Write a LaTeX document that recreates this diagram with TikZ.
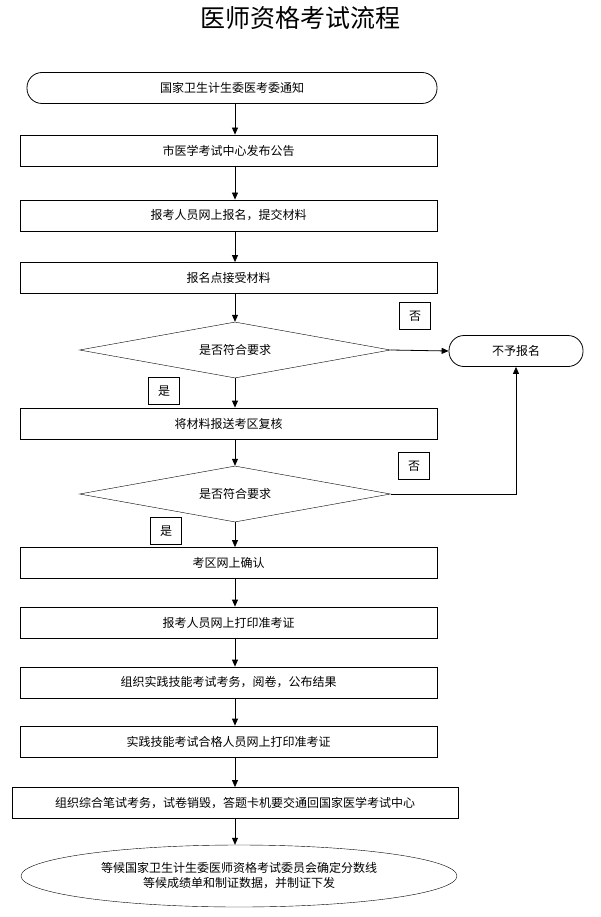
\documentclass[tikz,border=0pt]{standalone}
\usepackage{fontspec}
\setmainfont{Noto Sans CJK SC}
\usetikzlibrary{shapes.geometric,arrows.meta}
\begin{document}
\begin{tikzpicture}[x=1pt,y=-1pt,
  every node/.style={font=\fontsize{12}{15}\selectfont},
  box/.style={draw,thick,minimum height=31pt,inner sep=0pt},
  dia/.style={draw,diamond,aspect=5.6,minimum width=311pt,minimum height=56pt,inner sep=0pt},
  lab/.style={draw,thick,minimum width=31pt,minimum height=27pt,inner sep=0pt},
  arr/.style={thick,-{Triangle[length=7pt,width=6pt]}}]
\useasboundingbox (0,0) rectangle (600,917);
\node (title) at (300,18) {\fontsize{25}{29}\selectfont 医师资格考试流程};
\node[draw,thick,rounded corners=15pt,minimum width=410pt,minimum height=31pt,inner sep=0pt] (n1) at (232,88) {国家卫生计生委医考委通知};
\node[box,minimum width=417pt] (n2) at (228.5,150.5) {市医学考试中心发布公告};
\node[box,minimum width=417pt] (n3) at (228.5,215.5) {报考人员网上报名，提交材料};
\node[box,minimum width=417pt] (n4) at (228.5,278) {报名点接受材料};
\node[dia] (d1) at (235,350) {是否符合要求};
\node[draw,thick,rounded corners=15pt,minimum width=134pt,minimum height=31pt,inner sep=0pt] (no) at (516,351) {不予报名};
\node[lab] (f1) at (415,316) {否};
\node[lab] (y1) at (164,391) {是};
\node[box,minimum width=417pt] (n5) at (228.5,423.5) {将材料报送考区复核};
\node[dia] (d2) at (235,494) {是否符合要求};
\node[lab] (f2) at (414,466) {否};
\node[lab] (y2) at (166,531) {是};
\node[box,minimum width=417pt] (n6) at (228.5,563) {考区网上确认};
\node[box,minimum width=417pt] (n7) at (228.5,622.5) {报考人员网上打印准考证};
\node[box,minimum width=417pt] (n8) at (228.5,682.5) {组织实践技能考试考务，阅卷，公布结果};
\node[box,minimum width=446pt] (n10) at (235,803) {组织综合笔试考务，试卷销毁，答题卡机要交通回国家医学考试中心};
\node[box,minimum width=417pt] (n9) at (228.5,741.5) {实践技能考试合格人员网上打印准考证};
\node[draw,ellipse,minimum width=436pt,minimum height=62pt,inner sep=0pt,align=center] (n11) at (239,876) {等候国家卫生计生委医师资格考试委员会确定分数线\\等候成绩单和制证数据，并制证下发};
\coordinate (c) at (235,0);
\draw[arr] (n1.south -| c) -- (n2.north -| c);
\draw[arr] (n2.south -| c) -- (n3.north -| c);
\draw[arr] (n3.south -| c) -- (n4.north -| c);
\draw[arr] (n4.south -| c) -- (d1.north);
\draw[arr] (d1.south) -- (n5.north -| d1.south);
\draw[arr] (n5.south -| d2.north) -- (d2.north);
\draw[arr] (d2.south) -- (n6.north -| d2.south);
\draw[arr] (d1.east) -- (no.west);
\draw[arr] (d2.east) -| (no.south);
\draw[arr] (n6.south -| c) -- (n7.north -| c);
\draw[arr] (n7.south -| c) -- (n8.north -| c);
\draw[arr] (n8.south -| c) -- (n9.north -| c);
\draw[arr] (n9.south -| c) -- (n10.north -| c);
\draw[arr] (n10.south -| c) -- (n11.north -| c);
\end{tikzpicture}
\end{document}
